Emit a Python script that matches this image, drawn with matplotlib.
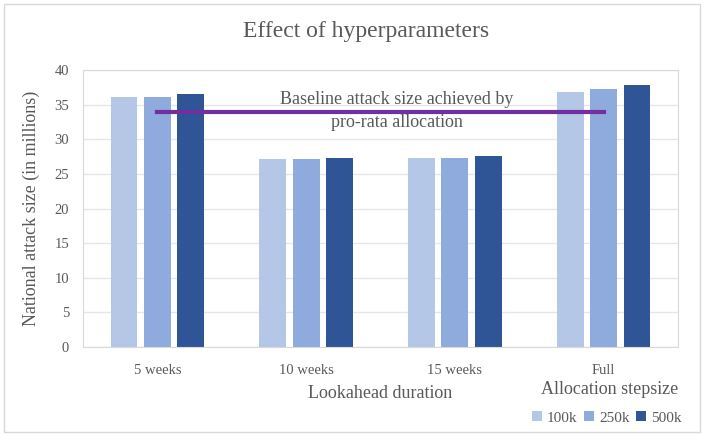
import matplotlib.pyplot as plt
from matplotlib.patches import Rectangle
import numpy as np

categories = ["5 weeks", "10 weeks", "15 weeks", "Full"]
series_names = ["100k", "250k", "500k"]
val_100k = [36.1, 27.1, 27.3, 36.8]
val_250k = [36.1, 27.1, 27.3, 37.3]
val_500k = [36.6, 27.3, 27.6, 37.8]
baseline = 33.9
colors = ["#B4C7E7", "#8FAADC", "#2F5597"]
grey = "#595959"

plt.rcParams["font.family"] = ["Liberation Serif", "DejaVu Serif"]

fig = plt.figure(figsize=(7.04, 4.36), dpi=100)
ax = fig.add_axes([83 / 704, 1 - 347 / 436, 595 / 704, 277 / 436])

x = np.arange(len(categories))
step = 0.225
width = 0.18
for i, vals in enumerate([val_100k, val_250k, val_500k]):
    ax.bar(x + (i - 1) * step, vals, width, color=colors[i], label=series_names[i], zorder=2)

ax.plot([x[0], x[-1]], [baseline, baseline], color="#7030A0", lw=3, zorder=3)
ax.text(1.61, 35.7, "Baseline attack size achieved by",
        ha="center", va="center", fontsize=13, color=grey, zorder=4)
ax.text(1.61, 32.4, "pro-rata allocation",
        ha="center", va="center", fontsize=13, color=grey, zorder=4)

ax.set_xlim(-0.5, 3.5)
ax.set_ylim(0, 40)
ax.set_yticks(range(0, 41, 5))
ax.set_xticks(x)
ax.set_xticklabels(categories)
ax.tick_params(axis="both", length=0, labelsize=10.5, colors=grey, pad=10)
ax.tick_params(axis="x", pad=12)
ax.yaxis.grid(True, color="#E6E6E6", lw=1, zorder=0)
for s in ax.spines.values():
    s.set_color("#D9D9D9")

ax.set_ylabel("National attack size (in millions)", fontsize=13, color=grey, labelpad=10)
ax.set_xlabel("Lookahead duration", fontsize=13, color=grey, labelpad=6)
fig.text(366 / 704, 1 - 32 / 436, "Effect of hyperparameters", ha="center", va="center",
         fontsize=17, color=grey)

fig.text(610 / 704, 1 - 389 / 436, "Allocation stepsize", ha="center", va="center",
         fontsize=13, color=grey)
leg = fig.legend(loc="center", bbox_to_anchor=(607 / 704, 1 - 418 / 436), ncol=3,
                 frameon=False, fontsize=11, labelcolor=grey, handlelength=0.6,
                 handleheight=0.6, handletextpad=0.35, columnspacing=0.45,
                 borderpad=0.2)

fig.patches.append(Rectangle((4 / 704, 4 / 436), 696 / 704, 428 / 436, transform=fig.transFigure,
                             fill=False, edgecolor="#D9D9D9", lw=1))

fig.savefig("out.png", dpi=100)
